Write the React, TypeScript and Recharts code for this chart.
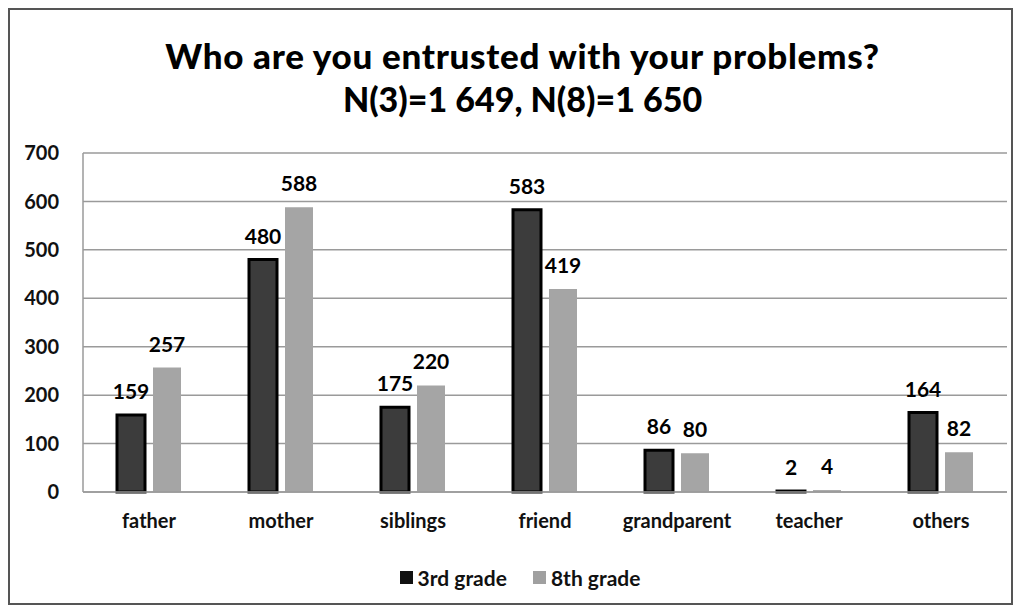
import React from 'react';
import { BarChart, Bar, XAxis, YAxis, CartesianGrid, Legend, LabelList } from 'recharts';

const categories = ['father', 'mother', 'siblings', 'friend', 'grandparent', 'teacher', 'others'];
const grade3 = [159, 480, 175, 583, 86, 2, 164];
const grade8 = [257, 588, 220, 419, 80, 4, 82];
const yTicks = [0, 100, 200, 300, 400, 500, 600, 700];

const data = categories.map((name, i) => ({ name, g3: grade3[i], g8: grade8[i] }));

const font = 'Lato, "Open Sans", sans-serif';

const LegendBox = () => (
  <div style={{ display: 'flex', justifyContent: 'center', gap: 26, fontFamily: font, fontSize: 21, fontWeight: 700, color: '#111' }}>
    <span style={{ display: 'flex', alignItems: 'center', gap: 5 }}>
      <span style={{ width: 13, height: 13, background: '#111', display: 'inline-block' }} />3rd grade
    </span>
    <span style={{ display: 'flex', alignItems: 'center', gap: 5 }}>
      <span style={{ width: 13, height: 13, background: '#a0a0a0', display: 'inline-block' }} />8th grade
    </span>
  </div>
);

export default function App() {
  return (
    <div style={{ position: 'relative', width: 1005, height: 597, background: '#fff' }}>
      <div style={{ position: 'absolute', top: 26, left: 0, width: '100%', paddingLeft: 24, boxSizing: 'border-box', textAlign: 'center', fontFamily: font, fontWeight: 900, lineHeight: '43px', color: '#000' }}>
        <div style={{ fontSize: 35, letterSpacing: 0.7 }}>Who are you entrusted with your problems?</div>
        <div style={{ fontSize: 34 }}>N(3)=1 649, N(8)=1 650</div>
      </div>
      <BarChart
        width={1005}
        height={597}
        data={data}
        margin={{ top: 145, right: 6, left: 25, bottom: 6 }}
        barGap={8}
        barCategoryGap={34}
      >
        <CartesianGrid vertical={false} stroke="#9a9a9a" strokeWidth={1.5} />
        <XAxis
          dataKey="name"
          tickLine={false}
          axisLine={{ stroke: '#9a9a9a', strokeWidth: 1.5 }}
          tick={{ fontFamily: font, fontSize: 20, fontWeight: 700, fill: '#111' }}
          tickMargin={16}
          height={73}
          interval={0}
        />
        <YAxis
          domain={[0, 700]}
          ticks={yTicks}
          tickLine={false}
          axisLine={{ stroke: '#9a9a9a', strokeWidth: 1.5 }}
          tick={{ fontFamily: font, fontSize: 20, fontWeight: 700, fill: '#111' }}
          tickMargin={18}
          width={50}
        />
        <Legend verticalAlign="bottom" height={34} content={() => <LegendBox />} />
        <Bar dataKey="g3" name="3rd grade" fill="#3c3c3c" stroke="#000" strokeWidth={3} barSize={28} isAnimationActive={false}>
          <LabelList dataKey="g3" position="top" offset={16} style={{ fontFamily: font, fontWeight: 700, fontSize: 21, fill: '#000' }} />
        </Bar>
        <Bar dataKey="g8" name="8th grade" fill="#a5a5a5" barSize={28} isAnimationActive={false}>
          <LabelList dataKey="g8" position="top" offset={16} style={{ fontFamily: font, fontWeight: 700, fontSize: 21, fill: '#000' }} />
        </Bar>
      </BarChart>
      <div style={{ position: 'absolute', left: 0, top: 0, right: 0, bottom: 0, border: '2px solid #555', pointerEvents: 'none' }} />
    </div>
  );
}
